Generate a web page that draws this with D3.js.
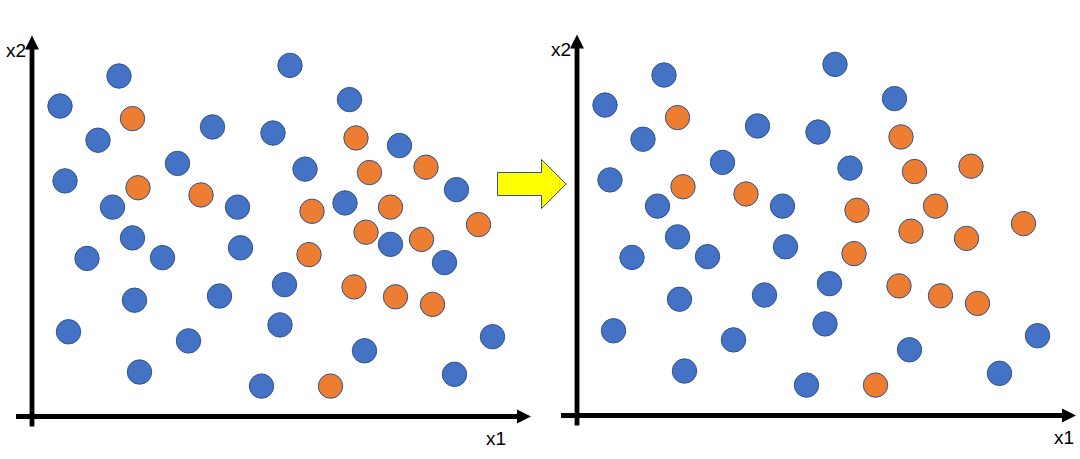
<!DOCTYPE html>
<html>
<head>
<meta charset="utf-8">
<script src="https://cdn.jsdelivr.net/npm/d3@7"></script>
<style>
  html, body { margin: 0; padding: 0; background: #fff; }
  svg { display: block; }
</style>
</head>
<body>
<svg id="chart" width="1080" height="459"></svg>
<script>
// ---- data (x1, x2 in arbitrary units 0..100) ----
const blueX1 = [17.4, 5.6, 13.2, 36.1, 51.6, 63.5, 48.2, 29.1, 6.6, 54.6, 73.5, 84.9, 16.1, 41.1, 62.6, 20.1,
                11.0, 26.1, 41.7, 71.7, 82.5, 20.5, 37.5, 50.5, 7.3, 31.3, 49.6, 66.5, 92.1, 21.5, 45.9, 84.5];
const blueX2 = [89.6, 81.7, 72.7, 76.2, 92.4, 83.4, 74.6, 66.6, 62.0, 65.1, 71.3, 59.7, 55.1, 55.1, 56.2, 47.0,
                41.6, 41.8, 44.4, 45.3, 40.5, 30.6, 31.7, 34.7, 22.3, 19.9, 24.1, 17.3, 21.0, 11.7, 8.0, 11.1];
// blue points that are removed in the right-hand panel (indices into blue arrays)
const removedBlue = [10, 11, 14, 19, 20];

const orangeX1 = [20.1, 64.8, 67.5, 78.8, 21.2, 33.8, 56.0, 71.7, 89.3, 66.8, 77.9, 55.4, 64.4, 72.7, 80.1, 59.7];
const orangeX2 = [78.4, 73.3, 64.2, 65.6, 60.2, 58.3, 54.0, 55.1, 50.5, 48.5, 46.6, 42.6, 34.1, 31.5, 29.5, 8.0];

const axisLabels = ["x1", "x2"];

// ---- layout ----
const svg = d3.select("#chart");
const x = d3.scaleLinear().domain([0, 100]).range([32, 532]);
const y = d3.scaleLinear().domain([0, 100]).range([416.5, 36.5]);

const BLUE = "#4472C4", ORANGE = "#ED7D31", EDGE = "#2F528F";
const R = 12.2;

const blues = blueX1.map((v, i) => ({x1: v, x2: blueX2[i], i}));
const oranges = orangeX1.map((v, i) => ({x1: v, x2: orangeX2[i]}));

function panel(g, blueData, tipX, x1LabelX) {
  // axes
  const ox = x(0), oy = y(0);
  g.append("line").attr("x1", ox - 16).attr("x2", tipX - 13).attr("y1", oy).attr("y2", oy)
    .attr("stroke", "#000").attr("stroke-width", 4.8);
  g.append("path").attr("d", `M${tipX},${oy} L${tipX - 14},${oy - 7} L${tipX - 14},${oy + 7} Z`).attr("fill", "#000");
  const topY = y(100) - 1;
  g.append("line").attr("x1", ox).attr("x2", ox).attr("y1", oy + 10).attr("y2", topY + 13)
    .attr("stroke", "#000").attr("stroke-width", 4.8);
  g.append("path").attr("d", `M${ox},${topY} L${ox - 7},${topY + 14} L${ox + 7},${topY + 14} Z`).attr("fill", "#000");

  g.append("text").attr("x", x1LabelX).attr("y", oy + 28).attr("text-anchor", "middle")
    .attr("font-family", "Liberation Sans, Arial, sans-serif").attr("font-size", 19)
    .text(axisLabels[0]);
  g.append("text").attr("x", ox - 6).attr("y", topY + 21).attr("text-anchor", "end")
    .attr("font-family", "Liberation Sans, Arial, sans-serif").attr("font-size", 19)
    .text(axisLabels[1]);

  g.selectAll("circle.b").data(blueData).join("circle").attr("class", "b")
    .attr("cx", d => x(d.x1)).attr("cy", d => y(d.x2)).attr("r", R)
    .attr("fill", BLUE).attr("stroke", EDGE).attr("stroke-width", 1);
  g.selectAll("circle.o").data(oranges).join("circle").attr("class", "o")
    .attr("cx", d => x(d.x1)).attr("cy", d => y(d.x2)).attr("r", R)
    .attr("fill", ORANGE).attr("stroke", EDGE).attr("stroke-width", 1);
}

const left = svg.append("g");
panel(left, blues, 531, 496);

const right = svg.append("g").attr("transform", "translate(545,-1)");
panel(right, blues.filter(d => !removedBlue.includes(d.i)), 531, 519);

// yellow block arrow between panels
svg.append("path")
  .attr("d", "M497.5,172.5 L541.5,172.5 L541.5,159.5 L566,184 L541.5,208.5 L541.5,195.5 L497.5,195.5 Z")
  .attr("fill", "#FFFF00").attr("stroke", EDGE).attr("stroke-width", 1);
</script>
</body>
</html>
